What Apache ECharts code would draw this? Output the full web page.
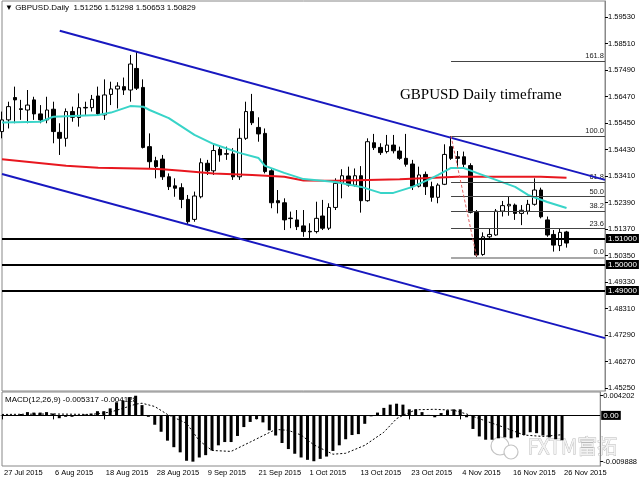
<!DOCTYPE html>
<html>
<head>
<meta charset="utf-8">
<script src="https://cdn.jsdelivr.net/npm/echarts@6/dist/echarts.min.js"></script>
<style>
    html, body { margin: 0; padding: 0; background: #fff; }
    #chart { width: 640px; height: 480px; }
</style>
</head>
<body>
<div id="chart"></div>
<script>
(function () {
    'use strict';

    // GBPUSD daily candles, 27 Jul 2015 .. 26 Nov 2015
    var opens = [1.5512, 1.5557, 1.5643, 1.5600, 1.5595, 1.5634, 1.5580, 1.5557, 1.5598, 1.5509,
        1.5486, 1.5589, 1.5566, 1.5605, 1.5604, 1.5649, 1.5576, 1.5655, 1.5676, 1.5685,
        1.5672, 1.5755, 1.5682, 1.5454, 1.5400, 1.5406, 1.5338, 1.5303, 1.5296, 1.5251,
        1.5174, 1.5261, 1.5390, 1.5361, 1.5444, 1.5427, 1.5426, 1.5338, 1.5486, 1.5589,
        1.5528, 1.5505, 1.5361, 1.5246, 1.5238, 1.5179, 1.5172, 1.5149, 1.5128, 1.5127,
        1.5187, 1.5140, 1.5220, 1.5313, 1.5341, 1.5306, 1.5342, 1.5246, 1.5469, 1.5451,
        1.5435, 1.5460, 1.5437, 1.5409, 1.5387, 1.5302, 1.5347, 1.5300, 1.5259, 1.5309,
        1.5454, 1.5415, 1.5415, 1.5381, 1.5201, 1.5039, 1.5107, 1.5114, 1.5206, 1.5226,
        1.5229, 1.5197, 1.5206, 1.5232, 1.5287, 1.5172, 1.5116, 1.5073, 1.51256];
    var closes = [1.5557, 1.5608, 1.5634, 1.5597, 1.5614, 1.5580, 1.5557, 1.5595, 1.5512, 1.5486,
        1.5589, 1.5567, 1.5604, 1.5603, 1.5636, 1.5580, 1.5653, 1.5676, 1.5687, 1.5672,
        1.5772, 1.5679, 1.5451, 1.5396, 1.5377, 1.5338, 1.5300, 1.5294, 1.5251, 1.5165,
        1.5264, 1.5392, 1.5361, 1.5439, 1.5422, 1.5425, 1.5338, 1.5486, 1.5589, 1.5546,
        1.5503, 1.5358, 1.5238, 1.5238, 1.5172, 1.5177, 1.5146, 1.5127, 1.5126, 1.5178,
        1.5140, 1.5220, 1.5313, 1.5342, 1.5306, 1.5342, 1.5246, 1.5473, 1.5450, 1.5431,
        1.5460, 1.5438, 1.5409, 1.5386, 1.5302, 1.5345, 1.5300, 1.5259, 1.5306, 1.5424,
        1.5409, 1.5409, 1.5386, 1.5201, 1.5037, 1.5107, 1.5116, 1.5206, 1.5227, 1.5232,
        1.5197, 1.5209, 1.5232, 1.5287, 1.5184, 1.5114, 1.5075, 1.5124, 1.50829];
    var lows = [1.5486, 1.5524, 1.5544, 1.5557, 1.5544, 1.5557, 1.5544, 1.5544, 1.5467, 1.5422,
        1.5454, 1.5550, 1.5531, 1.5576, 1.5589, 1.5576, 1.5557, 1.5614, 1.5601, 1.5653,
        1.5627, 1.5672, 1.5447, 1.5371, 1.5332, 1.5326, 1.5287, 1.5261, 1.5217, 1.5156,
        1.5165, 1.5255, 1.5345, 1.5345, 1.5396, 1.5403, 1.5326, 1.5326, 1.5480, 1.5537,
        1.5473, 1.5351, 1.5217, 1.5197, 1.5133, 1.5140, 1.5133, 1.5107, 1.5101, 1.5120,
        1.5133, 1.5133, 1.5210, 1.5255, 1.5300, 1.5300, 1.5200, 1.5242, 1.5441, 1.5422,
        1.5428, 1.5428, 1.5403, 1.5377, 1.5287, 1.5297, 1.5268, 1.5242, 1.5236, 1.5306,
        1.5403, 1.5377, 1.5373, 1.5197, 1.5028, 1.5034, 1.5095, 1.5111, 1.5185, 1.5188,
        1.5172, 1.5152, 1.5193, 1.5227, 1.5178, 1.5107, 1.5050, 1.5052, 1.50653];
    var highs = [1.5589, 1.5627, 1.5685, 1.5634, 1.5672, 1.5646, 1.5614, 1.5646, 1.5627, 1.5544,
        1.5601, 1.5608, 1.5659, 1.5627, 1.5653, 1.5685, 1.5713, 1.5704, 1.5702, 1.5720,
        1.5807, 1.5820, 1.5713, 1.5505, 1.5415, 1.5422, 1.5351, 1.5332, 1.5313, 1.5268,
        1.5281, 1.5409, 1.5403, 1.5467, 1.5460, 1.5454, 1.5448, 1.5524, 1.5627, 1.5657,
        1.5567, 1.5524, 1.5367, 1.5287, 1.5255, 1.5204, 1.5210, 1.5210, 1.5159, 1.5242,
        1.5249, 1.5236, 1.5332, 1.5367, 1.5377, 1.5370, 1.5379, 1.5486, 1.5503, 1.5467,
        1.5499, 1.5499, 1.5454, 1.5503, 1.5403, 1.5377, 1.5358, 1.5319, 1.5313, 1.5463,
        1.5495, 1.5437, 1.5435, 1.5390, 1.5210, 1.5124, 1.5140, 1.5214, 1.5245, 1.5262,
        1.5235, 1.5229, 1.5249, 1.5332, 1.5296, 1.5185, 1.5133, 1.5140, 1.51298];

    // moving averages, [bar index, price]
    var maFast = [[0, 1.5547], [6, 1.5550], [8, 1.5569], [15, 1.5576], [17, 1.5585], [20, 1.5610],
        [22, 1.5608], [23, 1.5595], [26, 1.5564], [30, 1.5499], [33, 1.5464], [37, 1.5430],
        [40, 1.5410], [41, 1.5380], [44, 1.5353], [47, 1.5329], [52, 1.5318], [56, 1.5299],
        [59, 1.5276], [61, 1.5276], [64, 1.5299], [67, 1.5333], [68, 1.5345], [70, 1.5372],
        [72, 1.5372], [74, 1.5353], [77, 1.5326], [80, 1.5299], [82, 1.5268], [85, 1.5241],
        [88, 1.5218]];
    var maSlow = [[0, 1.5405], [10, 1.5380], [15, 1.5373], [23, 1.5369], [25, 1.5367], [28, 1.5361],
        [33, 1.5351], [39, 1.5345], [44, 1.5338], [47, 1.5324], [52, 1.5323], [57, 1.5326],
        [62, 1.5328], [71, 1.5338], [76, 1.5338], [84, 1.5338], [88, 1.5334]];

    // drawn objects
    var channelUpper = [[9, 1.5900], [94, 1.5326]];
    var channelLower = [[0, 1.5349], [94, 1.4717]];
    var fibTrend = [[70, 1.5495], [74, 1.5028]];
    var fibNames = ['0.0', '23.6', '38.2', '50.0', '61.8', '100.0', '161.8'];
    var fibPrices = [1.5028, 1.5138, 1.5206, 1.5262, 1.5317, 1.5495, 1.5784];
    var levels = [1.51, 1.50, 1.49];
    var bidPrice = 1.50829;

    var priceTicks = [1.5953, 1.5851, 1.5749, 1.5647, 1.5545, 1.5443, 1.5341, 1.5239,
        1.5137, 1.5035, 1.4933, 1.4831, 1.4729, 1.4627, 1.4525];

    // MACD(12,26,9)
    var macdHist = [-0.0001, 0.0001, 0.0001, 0.0003, 0.0007, 0.0006, 0.0006, 0.0007, 0.0004, -0.0006,
        -0.0003, -0.0003, 0.0001, 0.0002, 0.0004, 0.0009, 0.0009, 0.0015, 0.0028, 0.0032,
        0.0039, 0.004202, 0.0022, -0.0003, -0.0020, -0.0035, -0.0054, -0.0068, -0.0079, -0.0097,
        -0.009888, -0.0090, -0.0085, -0.0075, -0.0064, -0.0057, -0.0057, -0.0044, -0.0025, -0.0014,
        -0.0008, -0.0015, -0.0032, -0.0043, -0.0059, -0.0072, -0.0082, -0.0090, -0.0095, -0.0098,
        -0.0093, -0.0088, -0.0076, -0.0064, -0.0051, -0.0042, -0.0040, -0.0018, -0.0002, 0.0006,
        0.0016, 0.0023, 0.0025, 0.0023, 0.0013, 0.0013, 0.0007, 0.0001, -0.0004, 0.0005,
        0.0011, 0.0013, 0.0013, -0.0004, -0.0029, -0.0045, -0.0052, -0.0052, -0.0049, -0.0047,
        -0.0049, -0.0047, -0.0042, -0.0036, -0.0038, -0.0043, -0.0047, -0.0051, -0.005317];
    var macdSignal = [[0, 0.0002], [8, 0.0003], [14, 0.0002], [17, 0.0007], [19, 0.0015], [21, 0.0024],
        [22, 0.0026], [24, 0.0019], [26, 0.0002], [29, -0.0017], [31, -0.0054], [33, -0.0075],
        [36, -0.0077], [39, -0.0057], [43, -0.0030], [45, -0.0032], [47, -0.0042], [49, -0.0063],
        [52, -0.0083], [54, -0.0081], [57, -0.0064], [60, -0.0036], [62, -0.0007], [63, 0.0000],
        [65, 0.0012], [68, 0.0013], [71, 0.0011], [73, 0.0003], [76, -0.0012], [79, -0.0026],
        [82, -0.0042], [85, -0.0045], [88, -0.004128]];
    var macdTicks = [0.004202, -0.009888];

    var lastBar = 88;
    var slots = 95;

    // weekday dates from 27 Jul 2015
    var months = ['Jan', 'Feb', 'Mar', 'Apr', 'May', 'Jun', 'Jul', 'Aug', 'Sep', 'Oct', 'Nov', 'Dec'];
    var dates = [];
    var d = new Date(Date.UTC(2015, 6, 27));
    while (dates.length < slots) {
        var wd = d.getUTCDay();
        if (wd !== 0 && wd !== 6) {
            dates.push(d.getUTCDate() + ' ' + months[d.getUTCMonth()] + ' ' + d.getUTCFullYear());
        }
        d.setUTCDate(d.getUTCDate() + 1);
    }

    var candles = opens.map(function (o, i) {
        return [o, closes[i], lows[i], highs[i]];
    });

    var font = 'Liberation Sans';
    var showDate = function (index) {
        return index % 8 === 0 && index <= lastBar;
    };

    var boxLabel = function (text, bg, fg) {
        return {
            show: true, position: 'end', distance: 1, formatter: text,
            backgroundColor: bg, color: fg, fontSize: 8, fontFamily: font,
            padding: [1, 2, 0, 2]
        };
    };

    var marks = [{
        yAxis: bidPrice,
        lineStyle: { color: '#c0c0c0', width: 1, type: 'solid' },
        label: boxLabel(bidPrice.toFixed(5), '#c0c0c0', '#000')
    }];
    levels.forEach(function (p) {
        marks.push({
            yAxis: p,
            lineStyle: { color: '#000', width: 2, type: 'solid' },
            label: boxLabel(p.toFixed(5), '#000', '#fff')
        });
    });
    fibPrices.forEach(function (p, k) {
        marks.push([{
            coord: [70, p],
            lineStyle: k === 0 ? { color: '#a8a8a8', width: 2, type: 'solid' } : { color: '#444', width: 1, type: 'solid' },
            label: {
                show: true, position: 'insideEndTop', formatter: fibNames[k], distance: 1,
                fontSize: 7.5, fontFamily: font, color: '#222'
            }
        }, { coord: [94, p] }]);
    });

    var myChart = echarts.init(document.getElementById('chart'));
    var option = {
        animation: false,
        backgroundColor: '#fff',
        grid: [
            { left: 2, right: 35, top: 1, height: 390, show: true, borderColor: '#888', borderWidth: 1 },
            { left: 2, right: 35, top: 392, height: 74, show: true, borderColor: '#888', borderWidth: 1 }
        ],
        xAxis: [{
            gridIndex: 0, type: 'category', data: dates, boundaryGap: false,
            axisLine: { show: false }, axisTick: { show: false }, axisLabel: { show: false },
            splitLine: { show: false }
        }, {
            gridIndex: 1, type: 'category', data: dates, boundaryGap: false,
            axisLine: { show: true, lineStyle: { color: '#888' } },
            axisTick: { show: true, interval: showDate, length: 4, lineStyle: { color: '#000' } },
            axisLabel: {
                interval: showDate, align: 'left', margin: 3, padding: [0, 0, 0, 2],
                fontSize: 7.5, fontFamily: font, color: '#000'
            },
            splitLine: { show: false }
        }],
        yAxis: [{
            gridIndex: 0, type: 'value', position: 'right', min: 1.45134, max: 1.60146,
            splitLine: { show: false },
            axisLine: { show: true, lineStyle: { color: '#888' } },
            axisTick: { show: true, customValues: priceTicks, length: 3, lineStyle: { color: '#000' } },
            axisLabel: {
                customValues: priceTicks, margin: 3, fontSize: 7.5, fontFamily: font, color: '#000',
                formatter: function (v) { return v.toFixed(5); }
            }
        }, {
            gridIndex: 1, type: 'value', position: 'right', min: -0.01082, max: 0.0050,
            splitLine: { show: false },
            axisLine: { show: true, lineStyle: { color: '#888' } },
            axisTick: { show: true, customValues: macdTicks, length: 3, lineStyle: { color: '#000' } },
            axisLabel: {
                customValues: macdTicks, margin: 3, fontSize: 7.5, fontFamily: font, color: '#000',
                formatter: function (v) { return v.toFixed(6); }
            }
        }],
        series: [{
            type: 'candlestick', xAxisIndex: 0, yAxisIndex: 0, data: candles,
            barWidth: 4, z: 3,
            itemStyle: { color: '#fff', color0: '#000', borderColor: '#000', borderColor0: '#000', borderWidth: 1 },
            markLine: { symbol: ['none', 'none'], silent: true, animation: false, data: marks }
        }, {
            type: 'line', xAxisIndex: 0, yAxisIndex: 0, data: maSlow, showSymbol: false, z: 4,
            lineStyle: { color: '#e8171f', width: 2 }
        }, {
            type: 'line', xAxisIndex: 0, yAxisIndex: 0, data: maFast, showSymbol: false, z: 4,
            lineStyle: { color: '#38d4c8', width: 2 }
        }, {
            type: 'line', xAxisIndex: 0, yAxisIndex: 0, data: channelUpper, showSymbol: false, z: 5,
            lineStyle: { color: '#1818c0', width: 2 }
        }, {
            type: 'line', xAxisIndex: 0, yAxisIndex: 0, data: channelLower, showSymbol: false, z: 5,
            lineStyle: { color: '#1818c0', width: 2 }
        }, {
            type: 'line', xAxisIndex: 0, yAxisIndex: 0, data: fibTrend, showSymbol: false, z: 5,
            lineStyle: { color: '#e06060', width: 1, type: [3, 2] }
        }, {
            type: 'bar', xAxisIndex: 1, yAxisIndex: 1, data: macdHist, barWidth: 3,
            itemStyle: { color: '#000' },
            markLine: {
                symbol: ['none', 'none'], silent: true, animation: false,
                data: [{
                    yAxis: 0,
                    lineStyle: { color: '#000', width: 1, type: 'solid' },
                    label: boxLabel('0.00', '#000', '#fff')
                }]
            }
        }, {
            type: 'line', xAxisIndex: 1, yAxisIndex: 1, data: macdSignal, showSymbol: false,
            lineStyle: { color: '#000', width: 1, type: [2, 2] }
        }],
        graphic: [{
            type: 'text', left: 5, top: 4,
            style: { text: '\u25BC GBPUSD.Daily  1.51256 1.51298 1.50653 1.50829', font: '8px "Liberation Sans"', fill: '#000' }
        }, {
            type: 'text', left: 400, top: 88,
            style: { text: 'GBPUSD Daily timeframe', font: '15px "Liberation Serif"', fill: '#000' }
        }, {
            type: 'text', left: 5, top: 396,
            style: { text: 'MACD(12,26,9) -0.005317 -0.004128', font: '8px "Liberation Sans"', fill: '#000' }
        }, {
            type: 'circle', shape: { cx: 500, cy: 446, r: 9 },
            style: { fill: 'none', stroke: '#c4c4c4', lineWidth: 1.2 }
        }, {
            type: 'circle', shape: { cx: 511, cy: 452, r: 7 },
            style: { fill: '#fff', stroke: '#c4c4c4', lineWidth: 1.2 }
        }, {
            type: 'text', left: 527, top: 436,
            style: { text: 'FXTM富拓', font: '20px "Noto Sans CJK SC"', fill: '#f2f2f2', stroke: '#b8b8b8', lineWidth: 0.8 }
        }]
    };
    myChart.setOption(option);
})();
</script>
</body>
</html>
